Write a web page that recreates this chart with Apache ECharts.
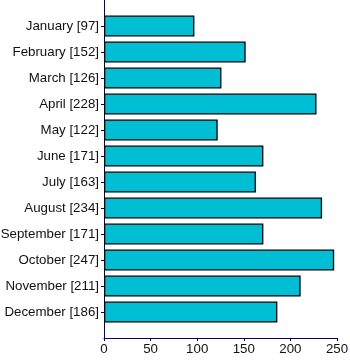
<!DOCTYPE html>
<html>
<head>
<meta charset="utf-8">
<script src="https://cdn.jsdelivr.net/npm/echarts@6/dist/echarts.min.js"></script>
<style>html,body{margin:0;padding:0;background:#fff}#c{width:350px;height:364px}</style>
</head>
<body>
<div id="c"></div>
<script>
const months = ["January","February","March","April","May","June","July","August","September","October","November","December"];
const values = [97,152,126,228,122,171,163,234,171,247,211,186];
const xTicks = [0,50,100,150,200,250];

const categories = months.map((m, i) => m + " [" + values[i] + "]");
const chart = echarts.init(document.getElementById('c'), null, {renderer: 'canvas'});
const font = 'Liberation Sans, Arial, sans-serif';
chart.setOption({
  animation: false,
  grid: [
    {left: 104, right: 13, top: 13, bottom: 39, outerBoundsMode: 'none', containLabel: false},
    {left: 104, right: 13, top: 0, bottom: 26, outerBoundsMode: 'none', containLabel: false}
  ],
  xAxis: [
    {gridIndex: 0, type: 'value', min: 0, max: 250, interval: 50, show: false},
    {gridIndex: 1, type: 'value', min: 0, max: 250, interval: 50,
     axisLine: {show: true, lineStyle: {color: '#000080', width: 1}},
     axisTick: {show: true, length: 3, lineStyle: {color: '#000080'}},
     splitLine: {show: false},
     axisLabel: {color: '#111', fontSize: 13.3, fontFamily: font, margin: 5,
       formatter: v => xTicks.includes(v) ? String(v) : ''}}
  ],
  yAxis: [
    {gridIndex: 0, type: 'category', inverse: true, data: categories,
     axisLine: {show: false},
     axisTick: {show: true, alignWithLabel: true, length: 3, lineStyle: {color: '#000080'}},
     axisLabel: {color: '#111', fontSize: 13.3, fontFamily: font, margin: 5}},
    {gridIndex: 1, type: 'value', min: 0, max: 1,
     axisLine: {show: true, lineStyle: {color: '#000080', width: 1}},
     axisTick: {show: false}, axisLabel: {show: false}, splitLine: {show: false}}
  ],
  series: [{
    type: 'bar', xAxisIndex: 0, yAxisIndex: 0, data: values, barWidth: 21,
    itemStyle: {color: '#00BED4', borderColor: '#000', borderWidth: 1.3}
  }]
});
</script>
</body>
</html>
